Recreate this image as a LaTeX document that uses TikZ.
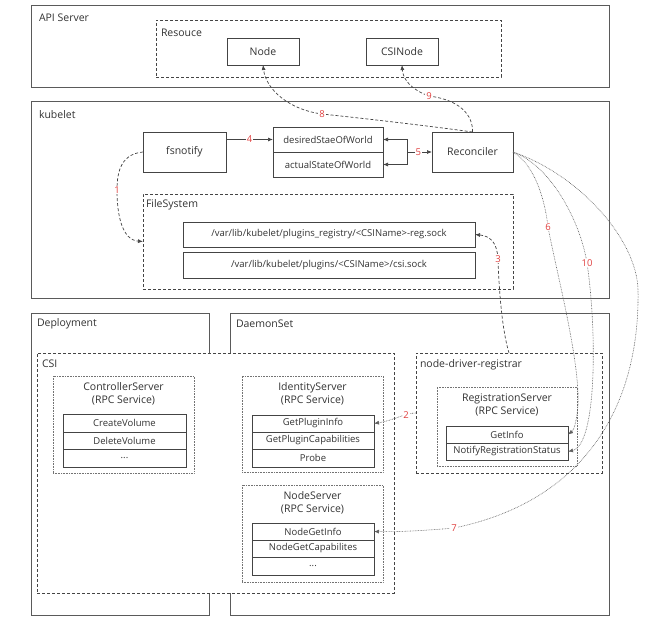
\documentclass[tikz,border=0pt]{standalone}
\usepackage{fontspec}
\setmainfont{Open Sans}
\usetikzlibrary{arrows.meta}
\definecolor{ink}{HTML}{333333}
\definecolor{edge}{HTML}{444444}
\definecolor{outer}{HTML}{5A5A5A}
\definecolor{numred}{HTML}{E0403F}
\newcommand\mkbox[7]{%
  \node[#6, minimum width={(#4)-(#2)}, minimum height={(#5)-(#3)}, anchor=center]
    (#1) at ({((#2)+(#4))/2},{((#3)+(#5))/2}) {#7};}
\tikzset{
  every node/.style={text=ink, inner sep=0pt, outer sep=0pt},
  big/.style={font=\fontsize{10.5}{13}\selectfont},
  small/.style={font=\fontsize{9.5}{12}\selectfont},
  outerbox/.style={draw=outer, line width=1pt},
  solidbox/.style={draw=edge, line width=0.7pt},
  dashbox/.style={draw=edge, line width=0.8pt, dash pattern=on 3pt off 2pt},
  dotbox/.style={draw=edge!75, line width=0.6pt, dash pattern=on 0.7pt off 0.9pt},
  num/.style={text=numred, fill=white, inner sep=0.8pt, font=\fontsize{9.5}{11}\selectfont},
  tip/.style={-{Latex[length=5pt,width=4pt]}},
  bitip/.style={{Latex[length=5pt,width=4pt]}-{Latex[length=5pt,width=4pt]}},
  dasharrow/.style={tip, draw=edge, line width=0.7pt, dash pattern=on 3pt off 2pt},
  dotarrow/.style={tip, draw=edge!85, line width=0.6pt, dash pattern=on 0.7pt off 0.9pt},
  solidarrow/.style={draw=edge, line width=0.7pt},
}
\begin{document}
\begin{tikzpicture}[x=1pt,y=-1pt]
\useasboundingbox (0,0) rectangle (650,623);
\fill[white] (0,0) rectangle (650,623);

% API Server
\mkbox{apisrv}{31}{6}{609}{88}{outerbox}{}
\node[big, anchor=west] (apilbl) at (39,18) {API Server};
\mkbox{resouce}{156}{20}{501}{77}{dashbox}{}
\node[big, anchor=west] (reslbl) at (161,33) {Resouce};
\mkbox{nodeK}{227}{38}{299}{65}{solidbox,big}{Node}
\mkbox{csinode}{366}{38}{438}{65}{solidbox,big}{CSINode}

% kubelet
\mkbox{kubelet}{31}{102}{609}{298}{outerbox}{}
\node[big, anchor=west] (kublbl) at (39,115) {kubelet};
\mkbox{fsnotify}{143}{132}{226}{172}{solidbox,big}{fsnotify}
\mkbox{desired}{273}{127}{383}{152}{solidbox,small}{desiredStaeOfWorld}
\mkbox{actual}{273}{152}{383}{177}{solidbox,small}{actualStateOfWorld}
\mkbox{recon}{432}{132}{513}{172}{solidbox,big}{Reconciler}
\mkbox{filesys}{143}{194}{513}{289}{dashbox}{}
\node[big, anchor=west] (fslbl) at (146,205) {FileSystem};
\mkbox{regsock}{183}{222}{475}{247}{solidbox,small}{/var/lib/kubelet/plugins\_registry/<CSIName>-reg.sock}
\mkbox{csisock}{183}{252}{475}{278}{solidbox,small}{/var/lib/kubelet/plugins/<CSIName>/csi.sock}

% Deployment / DaemonSet
\mkbox{deploy}{31}{313}{209}{615}{outerbox}{}
\node[big, anchor=west] (deplbl) at (37,324) {Deployment};
\mkbox{daemon}{230}{313}{609}{615}{outerbox}{}
\node[big, anchor=west] (dmlbl) at (236,324) {DaemonSet};

% CSI
\mkbox{csi}{37}{353}{394}{593}{dashbox,fill=white}{}
\node[big, anchor=west] (csilbl) at (42,364) {CSI};

\mkbox{ctrl}{53}{376}{194}{473}{dotbox}{}
\node[big, align=center] (ctrlhd) at (123.5,394) {ControllerServer\\(RPC Service)};
\mkbox{cv}{63}{414}{186}{432}{solidbox,small}{CreateVolume}
\mkbox{dv}{63}{432}{186}{449}{solidbox,small}{DeleteVolume}
\mkbox{cdots}{63}{449}{186}{467}{solidbox,small}{...}

\mkbox{ident}{242}{376}{383}{472}{dotbox}{}
\node[big, align=center] (identhd) at (312.5,394) {IdentityServer\\(RPC Service)};
\mkbox{gpi}{252}{415}{374}{432}{solidbox,small}{GetPluginInfo}
\mkbox{gpc}{252}{432}{374}{449}{solidbox,small}{GetPluginCapabilities}
\mkbox{probe}{252}{449}{374}{467}{solidbox,small}{Probe}

\mkbox{nodesrv}{242}{485}{383}{582}{dotbox}{}
\node[big, align=center] (nodehd) at (312.5,503) {NodeServer\\(RPC Service)};
\mkbox{ngi}{252}{523}{374}{540}{solidbox,small}{NodeGetInfo}
\mkbox{ngc}{252}{540}{374}{557}{solidbox,small}{NodeGetCapabilites}
\mkbox{ndots}{252}{557}{374}{575}{solidbox,small}{...}

% node-driver-registrar
\mkbox{ndr}{416}{353}{602}{473}{dashbox}{}
\node[big, anchor=west] (ndrlbl) at (420,365) {node-driver-registrar};
\mkbox{regsrv}{437}{387}{577}{466}{dotbox}{}
\node[big, align=center] (reghd) at (507,405) {RegistrationServer\\(RPC Service)};
\mkbox{getinfo}{446}{426}{568}{443}{solidbox,small}{GetInfo}
\mkbox{notify}{446}{443}{568}{460}{solidbox,small}{NotifyRegistrationStatus}

% connectors
\draw[dasharrow] (fsnotify.west) .. controls (122,154) and (117,170) .. (117,190)
  node[num] {1} .. controls (117,215) and (122,240) .. (filesys.west);
\draw[dotarrow] (ndr.west) .. controls (405,413) and (395,420) .. node[num, pos=0.3] {2} (gpi.east);
\draw[dasharrow] (ndr.north) .. controls (502,330) and (499,290) .. (498,259)
  node[num] {3} .. controls (497,242) and (490,236) .. (regsock.east);
\draw[solidarrow, tip] (fsnotify.east |- desired.west) -- node[num] {4} (desired.west);
\draw[solidarrow, bitip] (desired.east) -- ++(24,0) |- (actual.east);
\coordinate (b5) at (407,152);
\draw[solidarrow, tip] (b5) -- node[num, pos=0.45] {5} (recon.west);
\draw[dotarrow] (recon.east) .. controls (535,165) and (545,200) .. (548,227)
  node[num] {6} .. controls (556,270) and (580,360) .. (578,405)
  .. controls (577,420) and (574,430) .. (getinfo.east);
\draw[dotarrow] (recon.east) .. controls (550,165) and (580,220) .. (587,263)
  node[num] {10} .. controls (597,330) and (597,445) .. (notify.east);
\draw[dotarrow] (recon.east) .. controls (580,175) and (637,240) .. (638,290)
  .. controls (640,400) and (590,500) .. (454,528)
  node[num] {7} .. controls (420,531) and (395,532) .. (ngi.east);
\draw[dasharrow] (recon.north) .. controls (430,126) and (360,118) .. (322,114)
  node[num] {8} .. controls (290,110) and (266,90) .. (nodeK.south);
\draw[dasharrow] (recon.north) .. controls (473,115) and (460,100) .. (429,96)
  node[num] {9} .. controls (412,90) and (403,80) .. (csinode.south);
\end{tikzpicture}
\end{document}
